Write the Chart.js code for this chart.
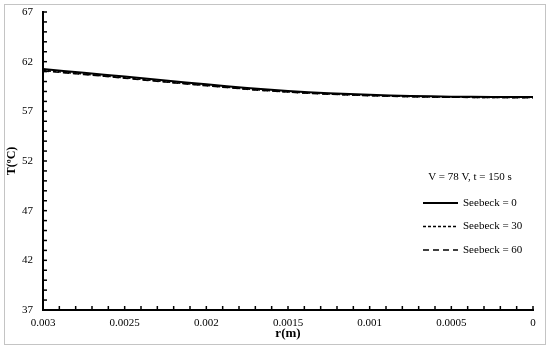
<!DOCTYPE html>
<html>
<head>
<meta charset="utf-8">
<script src="https://cdn.jsdelivr.net/npm/chart.js@4/dist/chart.umd.min.js"></script>
<style>
  body { margin: 0; background: #fff; }
  #wrap { position: relative; width: 550px; height: 352px; }
  #frame { position: absolute; left: 4px; top: 4px; width: 540px; height: 339px; border: 1px solid #c4c4c4; pointer-events: none; }
</style>
</head>
<body>
<div id="wrap">
  <canvas id="temp-chart" width="550" height="352"></canvas>
  <div id="frame"></div>
</div>
<script>
// radius (m) and temperature (ºC)
const radius = [0.003, 0.00275, 0.0025, 0.00225, 0.002, 0.00175, 0.0015, 0.00125, 0.001, 0.00075, 0.0005, 0.00025, 0];
const seebeck0 = [61.25, 60.88, 60.50, 60.10, 59.72, 59.35, 59.05, 58.83, 58.67, 58.55, 58.48, 58.45, 58.44];
const seebeck30 = [61.12, 60.75, 60.38, 59.98, 59.61, 59.25, 58.96, 58.75, 58.60, 58.49, 58.43, 58.40, 58.39];
const seebeck60 = [61.08, 60.71, 60.34, 59.95, 59.58, 59.22, 58.94, 58.73, 58.58, 58.47, 58.42, 58.39, 58.38];
const seriesLabels = ["Seebeck = 0", "Seebeck = 30", "Seebeck = 60"];
const legendTitle = "V = 78 V, t = 150 s";

const serif = "'Liberation Serif', 'Times New Roman', serif";

const toPoints = (ys) => radius.map((r, i) => ({x: r, y: ys[i]}));

//small ticks drawn inside the plot, like the original
const innerTicks = {
    id: "innerTicks",
    afterDatasetsDraw(chart){
        const ctx = chart.ctx;
        const area = chart.chartArea;
        ctx.save();
        ctx.strokeStyle = "#000";
        ctx.lineWidth = 1.5;
        chart.scales.x.ticks.forEach(t =>{
            const px = chart.scales.x.getPixelForValue(t.value);
            ctx.beginPath();
            ctx.moveTo(px, area.bottom);
            ctx.lineTo(px, area.bottom - 4);
            ctx.stroke();
        });
        chart.scales.y.ticks.forEach(t =>{
            const py = chart.scales.y.getPixelForValue(t.value);
            ctx.beginPath();
            ctx.moveTo(area.left, py);
            ctx.lineTo(area.left + 4, py);
            ctx.stroke();
        });
        ctx.restore();
    }
};

//legend box in the right part of the plot
const sideLegend = {
    id: "sideLegend",
    afterDraw(chart){
        const ctx = chart.ctx;
        const area = chart.chartArea;
        const cx = area.right - 63;
        ctx.save();
        ctx.fillStyle = "#000";
        ctx.font = "11px " + serif;
        ctx.textAlign = "center";
        ctx.textBaseline = "middle";
        ctx.fillText(legendTitle, cx, 177);
        chart.data.datasets.forEach((ds, i) =>{
            const y = 203 + i * 23.5;
            ctx.strokeStyle = "#000";
            ctx.lineWidth = ds.borderWidth;
            ctx.setLineDash(ds.borderDash || []);
            ctx.beginPath();
            ctx.moveTo(cx - 47, y);
            ctx.lineTo(cx - 12, y);
            ctx.stroke();
            ctx.setLineDash([]);
            ctx.textAlign = "left";
            ctx.fillText(ds.label, cx - 7, y);
        });
        ctx.restore();
    }
};

new Chart("temp-chart", {
    type: "line",
    data: {
        datasets: [
            {label: seriesLabels[0], data: toPoints(seebeck0), borderColor: "#000", borderWidth: 2, pointRadius: 0, tension: 0.3},
            {label: seriesLabels[1], data: toPoints(seebeck30), borderColor: "#000", borderWidth: 1.6, borderDash: [3, 2], pointRadius: 0, tension: 0.3},
            {label: seriesLabels[2], data: toPoints(seebeck60), borderColor: "#000", borderWidth: 1.6, borderDash: [6, 4], pointRadius: 0, tension: 0.3}
        ]
    },
    options: {
        responsive: false,
        animation: false,
        layout: {padding: {left: 0, right: 17, top: 12, bottom: 0}},
        plugins: {legend: {display: false}, tooltip: {enabled: false}},
        scales: {
            x: {
                type: "linear",
                reverse: true,
                min: 0,
                max: 0.003,
                grid: {display: false, drawTicks: false, tickLength: 0},
                border: {display: true, color: "#000", width: 2},
                afterFit: (s) => { s.height = 42; },
                ticks: {
                    stepSize: 0.0001,
                    autoSkip: false,
                    maxRotation: 0,
                    maxTicksLimit: 100,
                    padding: 7,
                    color: "#000",
                    font: {family: serif, size: 11},
                    callback: (v) =>{
                        const n = Math.round(v * 10000);
                        if(n % 5 !== 0) return "";
                        return String(parseFloat((n / 10000).toFixed(4)));
                    }
                },
                title: {display: true, text: "r(m)", color: "#000", font: {family: serif, size: 13, weight: "bold"}, padding: {top: 0, bottom: 11}}
            },
            y: {
                min: 37,
                max: 67,
                grid: {display: false, drawTicks: false, tickLength: 0},
                border: {display: true, color: "#000", width: 2},
                afterFit: (s) => { s.width = 43; s.paddingTop = 0; s.paddingBottom = 0; },
                ticks: {
                    stepSize: 1,
                    autoSkip: false,
                    padding: 10,
                    color: "#000",
                    font: {family: serif, size: 11},
                    callback: (v) => ((v - 37) % 5 === 0 ? String(v) : "")
                },
                title: {display: true, text: "T(ºC)", color: "#000", font: {family: serif, size: 12, weight: "bold"}, padding: {top: 5, bottom: 0}}
            }
        }
    },
    plugins: [innerTicks, sideLegend]
});
</script>
</body>
</html>
